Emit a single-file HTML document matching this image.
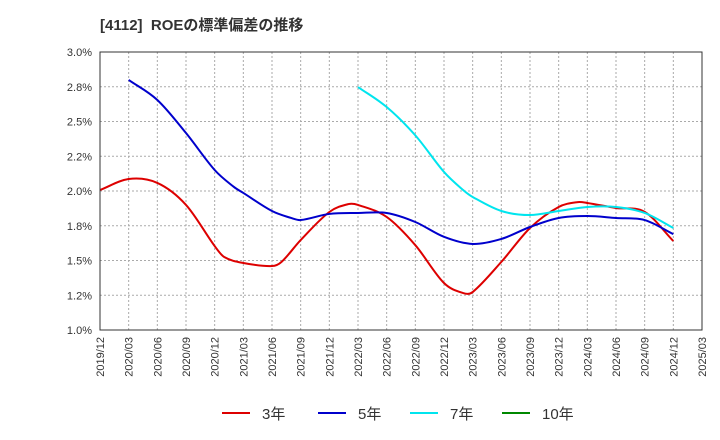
<!DOCTYPE html>
<html><head><meta charset="utf-8">
<style>
html,body{margin:0;padding:0;background:#fff;}
svg{display:block;font-family:"Liberation Sans","Noto Sans CJK JP",sans-serif;}
</style></head>
<body>
<svg id="chart" width="720" height="440" viewBox="0 0 720 440">
<text x="100" y="30" font-size="15" font-weight="bold" fill="#333">[4112]&#160;&#160;ROEの標準偏差の推移</text>
<g id="grid"></g>
<g id="series"></g>
<rect x="100" y="52" width="602" height="278" fill="none" stroke="#333" stroke-width="1"/>
<g id="yaxis"></g>
<g id="xaxis"></g>
<g id="legend"></g>
</svg>
<script>
// month index = months since 2019/12
const yTicks = [1.0, 1.25, 1.5, 1.75, 2.0, 2.25, 2.5, 2.75, 3.0];
const yTickLabels = ["1.0%","1.2%","1.5%","1.8%","2.0%","2.2%","2.5%","2.8%","3.0%"];
const xTickLabels = ["2019/12","2020/03","2020/06","2020/09","2020/12","2021/03","2021/06","2021/09","2021/12","2022/03","2022/06","2022/09","2022/12","2023/03","2023/06","2023/09","2023/12","2024/03","2024/06","2024/09","2024/12","2025/03"];
const s3Months = [0,3,6,9,12,13,15,18,19,21,24,26,27,30,33,36,38,39,42,45,48,50,51,54,57,60];
const s3Values = [2.007,2.086,2.058,1.90,1.604,1.525,1.482,1.46,1.49,1.647,1.849,1.906,1.90,1.813,1.61,1.338,1.266,1.273,1.49,1.734,1.885,1.92,1.914,1.878,1.85,1.64];
const s5Months = [3,6,9,12,14,15,18,20,21,24,27,30,33,36,39,42,45,48,51,54,57,60];
const s5Values = [2.799,2.655,2.417,2.151,2.03,1.986,1.856,1.806,1.791,1.835,1.842,1.842,1.777,1.67,1.619,1.655,1.741,1.806,1.82,1.806,1.791,1.69];
const s7Months = [27,30,33,36,38,39,42,45,48,51,54,57,60];
const s7Values = [2.748,2.604,2.40,2.137,2.007,1.957,1.856,1.827,1.856,1.885,1.885,1.842,1.734];
const s10Months = [];
const s10Values = [];

const NS="http://www.w3.org/2000/svg";
const X0=100,X1=702,Y0=330,Y1=52;
const xScale=m=>X0+(X1-X0)*m/63;
const yScale=v=>Y0-(v-1.0)/(2.0)*(Y0-Y1);
function mk(tag,attrs,parent){const e=document.createElementNS(NS,tag);for(const k in attrs)e.setAttribute(k,attrs[k]);parent.appendChild(e);return e;}
const grid=document.getElementById('grid'),ya=document.getElementById('yaxis'),xa=document.getElementById('xaxis'),ser=document.getElementById('series'),leg=document.getElementById('legend');
yTicks.forEach((v,i)=>{
  const y=yScale(v);
  const l=mk('line',{x1:X0,x2:X1,y1:y,y2:y,stroke:'#aaa','stroke-dasharray':'2,2'},grid);
  
  
  const t=mk('text',{x:92,y:y+4,'text-anchor':'end','font-size':11,fill:'#333'},ya);
  t.textContent=yTickLabels[i];
  
  
});
xTickLabels.forEach((lab,i)=>{
  const x=xScale(i*3);
  if(i>0&&i<xTickLabels.length-1){
    const l=mk('line',{x1:x,x2:x,y1:Y1,y2:Y0,stroke:'#aaa','stroke-dasharray':'2,2'},grid);
    
    
  }
  const t=mk('text',{x:0,y:0,'text-anchor':'end','font-size':11,fill:'#333',transform:`translate(${x+4},337) rotate(-90)`},xa);
  t.textContent=lab;
  
  
});
function smoothPath(pts){
  if(pts.length<2)return '';
  const n=pts.length;
  const tan=pts.map((p,i)=>{
    const a=pts[Math.max(0,i-1)],b=pts[Math.min(n-1,i+1)];
    return (b[1]-a[1])/(b[0]-a[0]);
  });
  let d=`M${pts[0][0]},${pts[0][1]}`;
  for(let i=0;i<n-1;i++){
    const p1=pts[i],p2=pts[i+1],h=(p2[0]-p1[0])/3;
    d+=`C${p1[0]+h},${p1[1]+tan[i]*h} ${p2[0]-h},${p2[1]-tan[i+1]*h} ${p2[0]},${p2[1]}`;
  }
  return d;
}
const series=[
  {name:'3年',months:s3Months,values:s3Values,color:'#dd0000',key:'3y'},
  {name:'5年',months:s5Months,values:s5Values,color:'#0000cc',key:'5y'},
  {name:'7年',months:s7Months,values:s7Values,color:'#00e5ee',key:'7y'},
  {name:'10年',months:s10Months,values:s10Values,color:'#008800',key:'10y'}
];
const legX=[222,318,410,502];
series.forEach((s,i)=>{
  const pts=s.months.map((m,j)=>[xScale(m),yScale(s.values[j])]);
  if(pts.length){
    const p=mk('path',{d:smoothPath(pts),fill:'none',stroke:s.color,'stroke-width':2},ser);
    
    
  }
  const g=mk('g',{},leg);
  
  
  mk('line',{x1:legX[i],x2:legX[i]+28,y1:413,y2:413,stroke:s.color,'stroke-width':2},g);
  const t=mk('text',{x:legX[i]+40,y:419,'font-size':15,fill:'#333'},g);
  t.textContent=s.name;
});
</script>
</body></html>
